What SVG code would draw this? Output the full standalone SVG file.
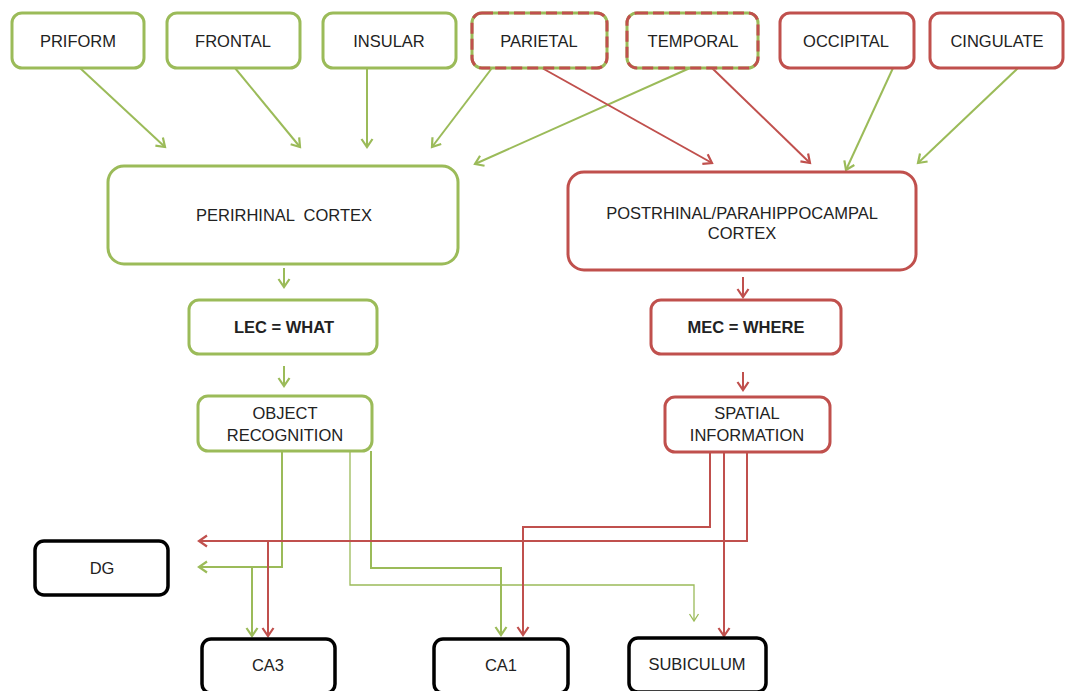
<svg xmlns="http://www.w3.org/2000/svg" width="1066" height="691" viewBox="0 0 1066 691">
<style>
.g{fill:#fff;stroke:#9BBB59;stroke-width:3}
.r{fill:#fff;stroke:#C0504D;stroke-width:3}
.k{fill:#fff;stroke:#000;stroke-width:3.5}
.rd{fill:none;stroke:#C0504D;stroke-width:3;stroke-dasharray:11 5}
text{font-family:"Liberation Sans",Arial,sans-serif;font-size:16.5px;fill:#222;text-anchor:middle;dominant-baseline:central}
.b{font-weight:bold}
.cg{fill:none;stroke:#9BBB59;stroke-width:2;marker-end:url(#ag)}
.cr{fill:none;stroke:#C0504D;stroke-width:2;marker-end:url(#ar)}
.ct{fill:none;stroke:#9BBB59;stroke-width:1.3;marker-end:url(#at)}
.pg{fill:none;stroke:#9BBB59;stroke-width:2}
.pr{fill:none;stroke:#C0504D;stroke-width:2}
</style>
<defs>
<marker id="ag" markerUnits="userSpaceOnUse" markerWidth="20" markerHeight="20" refX="10" refY="10" orient="auto" overflow="visible"><path d="M2,4.5 L10,10 L2,15.5" fill="none" stroke="#9BBB59" stroke-width="2.2"/></marker>
<marker id="ar" markerUnits="userSpaceOnUse" markerWidth="20" markerHeight="20" refX="10" refY="10" orient="auto" overflow="visible"><path d="M2,4.5 L10,10 L2,15.5" fill="none" stroke="#C0504D" stroke-width="2.2"/></marker>
<marker id="at" markerUnits="userSpaceOnUse" markerWidth="20" markerHeight="20" refX="10" refY="10" orient="auto" overflow="visible"><path d="M3,5.5 L10,10 L3,14.5" fill="none" stroke="#9BBB59" stroke-width="1.3"/></marker>
</defs>
<rect width="1066" height="691" fill="#fff"/>
<g id="connectors">
<path class="cg" d="M80,68 L165,147"/>
<path class="cg" d="M235,68 L300,147"/>
<path class="cg" d="M367,68 L367,147"/>
<path class="cg" d="M492,68 L432,147"/>
<path class="cg" d="M690,68 L475,164"/>
<path class="cr" d="M542,68 L712,163"/>
<path class="cr" d="M712,68 L810,163"/>
<path class="cg" d="M893,68 L846,170"/>
<path class="cg" d="M1018,68 L918,163"/>
<path class="cg" d="M284,268 L284,287"/>
<path class="cg" d="M284,366 L284,386"/>
<path class="cr" d="M743,277 L743,297"/>
<path class="cr" d="M743,372 L743,390"/>
<path class="cg" d="M282,451 L282,567 L199,567"/>
<path class="cg" d="M252,567 L252,636"/>
<path class="ct" d="M350,451 L350,585 L694,585 L694,621"/>
<path class="cg" d="M371,451 L371,568 L501,568 L501,635"/>
<path class="cr" d="M710,452 L710,527 L523,527 L523,635"/>
<path class="cr" d="M724,452 L724,636"/>
<path class="cr" d="M747,452 L747,541 L199,541"/>
<path class="cr" d="M268,541 L268,636"/>
</g>
<g id="priform"><rect class="g" x="12" y="13" width="132" height="55" rx="10"/><text x="78" y="41">PRIFORM</text></g>
<g id="frontal"><rect class="g" x="167" y="13" width="133" height="55" rx="10"/><text x="233" y="41">FRONTAL</text></g>
<g id="insular"><rect class="g" x="323" y="13" width="133" height="55" rx="10"/><text x="389" y="41">INSULAR</text></g>
<g id="parietal"><rect class="g" x="472" y="13" width="135" height="55" rx="10"/><rect class="rd" x="472" y="13" width="135" height="55" rx="10"/><text x="539" y="41">PARIETAL</text></g>
<g id="temporal"><rect class="g" x="627" y="13" width="131" height="55" rx="10"/><rect class="rd" x="627" y="13" width="131" height="55" rx="10"/><text x="693" y="41">TEMPORAL</text></g>
<g id="occipital"><rect class="r" x="780" y="13" width="134" height="55" rx="10"/><text x="846" y="41">OCCIPITAL</text></g>
<g id="cingulate"><rect class="r" x="930" y="13" width="133" height="55" rx="10"/><text x="997" y="41">CINGULATE</text></g>
<g id="perirhinal"><rect class="g" x="108" y="166" width="350" height="98" rx="16"/><text x="284" y="215" style="white-space:pre">PERIRHINAL  CORTEX</text></g>
<g id="postrhinal"><rect class="r" x="568" y="172" width="348" height="98" rx="16"/><text x="742" y="213">POSTRHINAL/PARAHIPPOCAMPAL</text><text x="742" y="233">CORTEX</text></g>
<g id="lec"><rect class="g" x="189" y="300" width="188" height="54" rx="10"/><text class="b" x="284" y="327">LEC = WHAT</text></g>
<g id="mec"><rect class="r" x="651" y="300" width="190" height="54" rx="10"/><text class="b" x="746" y="327">MEC = WHERE</text></g>
<g id="object"><rect class="g" x="198" y="396" width="174" height="55" rx="10"/><text x="285" y="413">OBJECT</text><text x="285" y="435">RECOGNITION</text></g>
<g id="spatial"><rect class="r" x="665" y="397" width="165" height="55" rx="10"/><text x="747" y="413">SPATIAL</text><text x="747" y="435">INFORMATION</text></g>
<g id="dg"><rect class="k" x="35" y="541" width="133" height="54" rx="9"/><text x="102" y="568">DG</text></g>
<g id="ca3"><rect class="k" x="202" y="639" width="133" height="54" rx="9"/><text x="268" y="665">CA3</text></g>
<g id="ca1"><rect class="k" x="434" y="639" width="134" height="54" rx="9"/><text x="501" y="665">CA1</text></g>
<g id="subiculum"><rect class="k" x="629" y="638" width="137" height="54" rx="9"/><text x="697" y="664">SUBICULUM</text></g>
</svg>
